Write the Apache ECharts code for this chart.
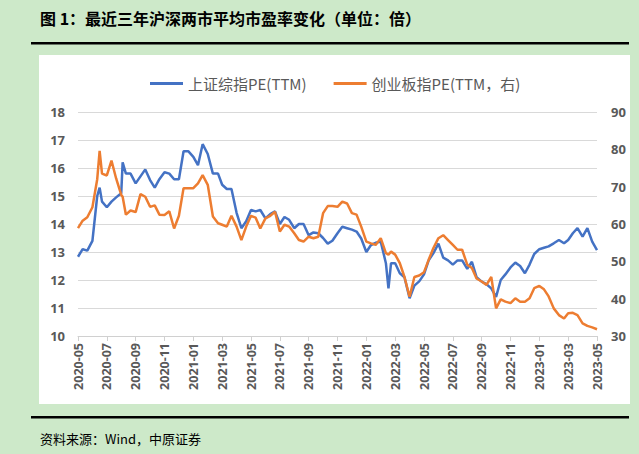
<!DOCTYPE html>
<html>
<head>
<meta charset="utf-8">
<script src="https://cdn.jsdelivr.net/npm/echarts@6/dist/echarts.min.js"></script>
<style>
html,body{margin:0;padding:0;background:#cde9c9;}
#c{width:639px;height:454px;}
</style>
</head>
<body>
<div id="c"></div>
<script>
const dates = [
'2020-05-01','2020-05-11','2020-05-21','2020-06-01','2020-06-11','2020-06-16','2020-06-21','2020-07-01','2020-07-11','2020-07-21',
'2020-08-01','2020-08-04','2020-08-11','2020-08-21','2020-09-01','2020-09-11','2020-09-21','2020-10-01','2020-10-11','2020-10-21',
'2020-11-01','2020-11-11','2020-11-21','2020-12-01','2020-12-11','2020-12-21',
'2021-01-01','2021-01-11','2021-01-21','2021-02-01','2021-02-11','2021-02-21','2021-03-01','2021-03-11','2021-03-21',
'2021-04-01','2021-04-11','2021-04-21','2021-05-01','2021-05-11','2021-05-21','2021-06-01','2021-06-11','2021-06-21',
'2021-07-01','2021-07-11','2021-07-21','2021-08-01','2021-08-11','2021-08-21','2021-09-01','2021-09-11','2021-09-21',
'2021-10-01','2021-10-11','2021-10-21','2021-11-01','2021-11-11','2021-11-21','2021-12-01','2021-12-11','2021-12-21',
'2022-01-01','2022-01-11','2022-01-21','2022-02-01','2022-02-11','2022-02-16','2022-02-21','2022-03-01','2022-03-11','2022-03-21',
'2022-04-01','2022-04-11','2022-04-21','2022-05-01','2022-05-11','2022-05-21','2022-06-01','2022-06-11','2022-06-21',
'2022-07-01','2022-07-11','2022-07-21','2022-08-01','2022-08-11','2022-08-21','2022-09-01','2022-09-11','2022-09-21',
'2022-10-01','2022-10-11','2022-10-21','2022-11-01','2022-11-11','2022-11-21','2022-12-01','2022-12-11','2022-12-21',
'2023-01-01','2023-01-11','2023-01-21','2023-02-01','2023-02-11','2023-02-21','2023-03-01','2023-03-11','2023-03-21',
'2023-04-01','2023-04-11','2023-04-21','2023-05-01'
];
// 上证综指PE(TTM) (left axis)
const ssePE = [
12.83,13.1,13.05,13.4,15.0,15.3,14.8,14.6,14.8,14.95,
15.1,16.2,15.8,15.8,15.45,15.7,15.95,15.57,15.3,15.6,
15.85,15.8,15.6,15.6,16.6,16.6,
16.4,16.1,16.85,16.5,15.8,15.8,15.4,15.25,15.25,
14.4,13.85,14.1,14.5,14.45,14.5,14.2,14.35,14.45,
14.0,14.25,14.15,13.85,14.0,14.0,13.6,13.7,13.67,
13.5,13.3,13.4,13.67,13.9,13.85,13.8,13.73,13.48,
13.0,13.25,13.33,13.37,12.6,11.7,12.6,12.6,12.24,12.1,
11.35,11.8,11.95,12.2,12.7,12.95,13.3,12.8,12.7,
12.55,12.7,12.7,12.4,12.65,12.1,11.94,11.85,11.7,
11.4,12.0,12.2,12.45,12.62,12.5,12.24,12.55,12.93,
13.1,13.15,13.2,13.31,13.43,13.31,13.43,13.67,13.85,
13.55,13.85,13.37,13.07
];
// 创业板指PE(TTM，右) (right axis)
const cybPE = [
58.9,60.9,61.8,64.5,72.0,79.6,73.5,73.0,77.0,72.2,
67.8,67.3,62.5,63.6,63.2,68.0,67.3,64.6,65.0,62.5,
62.4,63.4,58.8,62.2,69.6,69.6,
69.6,70.9,73.1,70.5,62.0,60.2,59.8,59.3,62.2,
59.3,55.7,59.3,62.2,61.7,58.8,61.5,62.2,63.3,
58.0,59.8,59.3,57.5,55.7,55.3,56.6,56.2,56.6,
62.9,64.8,64.8,64.6,66.0,65.5,62.9,62.5,59.3,
55.3,54.8,54.4,56.2,52.2,51.8,52.6,51.8,49.5,45.8,
40.5,45.8,46.2,47.1,50.4,53.5,56.2,57.0,55.7,
54.4,53.1,53.1,49.1,48.2,45.4,44.6,43.7,45.8,
37.4,39.8,39.2,38.8,40.1,39.2,39.2,40.1,42.8,
43.4,42.5,40.6,37.4,35.6,34.7,36.1,36.2,35.6,
33.4,32.7,32.3,31.8
];
const seriesNames = ['上证综指PE(TTM)', '创业板指PE(TTM，右)'];
const leftTicks = {min: 10, max: 18, interval: 1};
const rightTicks = {min: 30, max: 90, interval: 10};
const startYear = 2020, startMonth = 5, monthSpan = 36;
const titleText = '图 1：最近三年沪深两市平均市盈率变化（单位：倍）';
const sourceText = '资料来源：Wind，中原证券';

function monthIndex(s){
  const [y,m,d] = s.split('-').map(Number);
  const dim = new Date(y, m, 0).getDate();
  return (y - startYear)*12 + (m - startMonth) + (d-1)/dim;
}
function monthLabel(v){
  const t = startMonth - 1 + Math.round(v);
  const y = startYear + Math.floor(t/12);
  const m = t % 12 + 1;
  return y + '-' + (m<10?'0':'') + m;
}
const xs = dates.map(monthIndex);
const blueData = xs.map((x,i)=>[x, ssePE[i]]);
const orangeData = xs.map((x,i)=>[x, cybPE[i]]);

const chart = echarts.init(document.getElementById('c'), null, {renderer:'svg'});
const labelFont = {color:'#595959', fontSize:13, fontWeight:'bold', fontFamily:'"Noto Sans","Liberation Sans",sans-serif'};
chart.setOption({
  backgroundColor:'#cde9c9',
  animation:false,
  graphic:[
    {type:'rect', z:-10, shape:{x:39,y:55,width:591,height:349}, style:{fill:'#ffffff'}},
    {type:'rect', z:-5, shape:{x:31,y:42,width:598,height:2.5}, style:{fill:'#000000'}},
    {type:'rect', z:-5, shape:{x:31,y:416,width:598,height:2.5}, style:{fill:'#000000'}},
    {type:'text', x:40, y:18, style:{text:titleText, fill:'#000', font:'bold 16px "Noto Sans CJK SC"', verticalAlign:'middle'}},
    {type:'text', x:40, y:438, style:{text:sourceText, fill:'#000', font:'13px "Noto Sans CJK SC"', verticalAlign:'middle'}}
  ],
  legend:{
    top:71, left:145, itemGap:27, itemWidth:33, itemHeight:3, icon:'rect',
    textStyle:{color:'#595959', fontSize:15, fontFamily:'"Noto Sans CJK SC"'},
    data:seriesNames
  },
  grid:{left:78, right:42, top:112, bottom:118},
  xAxis:{
    type:'value', min:0, max:monthSpan, interval:2,
    axisLine:{show:true, lineStyle:{color:'#d0d0d0'}},
    axisTick:{show:true, length:5, lineStyle:{color:'#d0d0d0'}},
    splitLine:{show:false},
    axisLabel:Object.assign({}, labelFont, {rotate:90, margin:7, fontSize:12.5, formatter:monthLabel})
  },
  yAxis:[
    {type:'value', min:leftTicks.min, max:leftTicks.max, interval:leftTicks.interval,
     axisLine:{show:false}, axisTick:{show:false},
     splitLine:{lineStyle:{color:'#d9d9d9', width:1}},
     axisLabel:Object.assign({margin:13}, labelFont)},
    {type:'value', min:rightTicks.min, max:rightTicks.max, interval:rightTicks.interval,
     axisLine:{show:false}, axisTick:{show:false}, splitLine:{show:false},
     axisLabel:Object.assign({margin:14}, labelFont)}
  ],
  series:[
    {name:seriesNames[0], type:'line', yAxisIndex:0, data:blueData, showSymbol:false, symbol:'none',
     itemStyle:{color:'#4472c4'}, lineStyle:{color:'#4472c4', width:2.5}},
    {name:seriesNames[1], type:'line', yAxisIndex:1, data:orangeData, showSymbol:false, symbol:'none',
     itemStyle:{color:'#ed7d31'}, lineStyle:{color:'#ed7d31', width:2.5}}
  ]
});
</script>
</body>
</html>
